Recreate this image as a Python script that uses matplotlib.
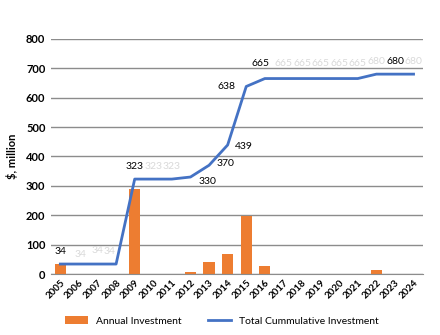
import matplotlib
matplotlib.use("Agg")
import matplotlib.pyplot as plt

plt.rcParams['font.family'] = ['Lato', 'DejaVu Sans']

years = [str(y) for y in range(2005, 2025)]
annual = [34, 0, 0, 0, 289, 0, 0, 7, 40, 69, 199, 27, 0, 0, 0, 0, 0, 15, 0, 0]
cumulative = [34, 34, 34, 34, 323, 323, 323, 330, 370, 439, 638, 665,
              665, 665, 665, 665, 665, 680, 680, 680]
# label offsets (points) and whether the label is highlighted
lbl_dark = [1, 0, 0, 0, 1, 0, 0, 1, 1, 1, 1, 1, 0, 0, 0, 0, 0, 0, 1, 0]
lbl_off = [(0, 9), (1, 7), (0, 10), (-4.5, 9), (0, 9), (0, 9), (0, 9),
           (12, -3), (12, 1), (12, -1), (-14, 0), (-3, 11), (0, 11), (0, 11),
           (0, 11), (0, 11), (0, 11), (0, 9), (0, 9), (0, 9)]

fig = plt.figure(figsize=(4.4, 3.35), dpi=100)
ax = fig.add_axes([0.116, 0.182, 0.845, 0.702])

x = range(len(years))
bars = ax.bar(x, annual, width=0.6, color='#ED7D31', label='Annual Investment', zorder=2)
line, = ax.plot(x, cumulative, color='#4472C4', lw=2, label='Total Cummulative Investment', zorder=3)

for i, v in enumerate(cumulative):
    ax.annotate(str(v), (i, v), xytext=lbl_off[i], textcoords='offset points',
                ha='center', va='center', fontsize=7.5,
                color='black' if lbl_dark[i] else '#d9d9d9', zorder=4)

ax.set_xlim(-0.5, len(years) - 0.5)
ax.set_ylim(0, 800)
ax.set_yticks(range(0, 801, 100))
ax.set_xticks(list(x))
ax.set_xticklabels(years, rotation=45, ha='right', rotation_mode='anchor',
                   fontsize=7, fontweight='bold')
for t in ax.get_yticklabels():
    t.set_fontweight('bold')
    t.set_fontsize(8)
ax.tick_params(length=0, pad=4)
ax.tick_params(axis='x', pad=3)
ax.grid(axis='y', color='#8c8c8c', lw=1, zorder=0)
for s in ['top', 'right', 'left']:
    ax.spines[s].set_visible(False)
ax.spines['bottom'].set_color('#8c8c8c')
ax.set_ylabel('$, million', fontsize=8, fontweight='bold', labelpad=6)

fig.legend([bars, line], ['Annual Investment', 'Total Cummulative Investment'],
           loc='lower center', ncol=2, frameon=False, fontsize=7.5,
           bbox_to_anchor=(0.505, 0.0), handlelength=2.2, columnspacing=2.5)

fig.savefig('out.png', dpi=100)
